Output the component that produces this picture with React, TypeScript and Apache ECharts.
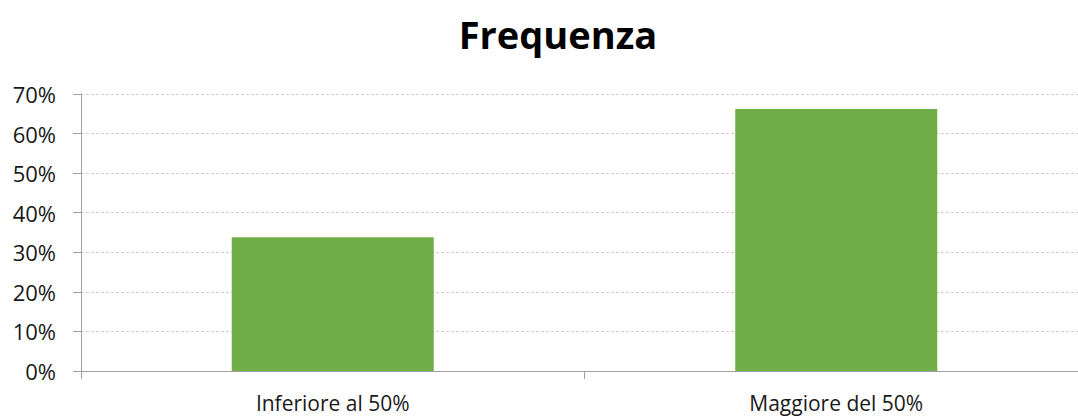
import React, { useEffect, useRef } from "react";
import * as echarts from "echarts";

const titleText = "Frequenza";
const categories = ["Inferiore al 50%", "Maggiore del 50%"];
const values = [0.338, 0.662];
const yTicks = { min: 0, max: 0.7, interval: 0.1 };

export default function App() {
  const ref = useRef<HTMLDivElement>(null);
  useEffect(() => {
    if (!ref.current) return;
    const chart = echarts.init(ref.current, undefined, { renderer: "svg" });
    const font = "'Open Sans', 'Noto Sans', sans-serif";
    chart.setOption({
      animation: false,
      backgroundColor: "#ffffff",
      title: {
        text: titleText,
        left: 553,
        top: 10,
        textAlign: "center",
        textStyle: { fontFamily: font, fontWeight: "bold", fontSize: 38, color: "#000000" },
      },
      grid: { left: 81, right: 2, top: 94, bottom: 47, containLabel: false },
      xAxis: {
        type: "category",
        data: categories,
        axisLine: { show: true, lineStyle: { color: "#a0a0a0", width: 1 } },
        axisTick: { show: true, length: 8, lineStyle: { color: "#a0a0a0" } },
        axisLabel: { fontFamily: font, fontSize: 21, lineHeight: 22, color: "#1a1a1a", margin: 21 },
        splitLine: { show: false },
      },
      yAxis: {
        type: "value",
        min: yTicks.min,
        max: yTicks.max,
        interval: yTicks.interval,
        axisLine: { show: true, lineStyle: { color: "#a0a0a0", width: 1 } },
        axisTick: { show: true, length: 8, lineStyle: { color: "#a0a0a0" } },
        axisLabel: {
          fontFamily: font,
          fontSize: 22,
          color: "#1a1a1a",
          margin: 25,
          formatter: (v: number) => `${Math.round(v * 100)}%`,
        },
        splitLine: { show: true, lineStyle: { color: "#d0d0d0", type: [3, 2], width: 1 } },
      },
      series: [
        {
          type: "bar",
          data: values,
          barWidth: 202,
          itemStyle: { color: "#70ad47" },
        },
      ],
    });
    return () => chart.dispose();
  }, []);
  return (
    <div style={{ position: "fixed", left: 0, top: 0, width: 1078, height: 418, overflow: "hidden", background: "#fff" }}>
      <div ref={ref} style={{ width: 1090, height: 418 }} />
    </div>
  );
}
